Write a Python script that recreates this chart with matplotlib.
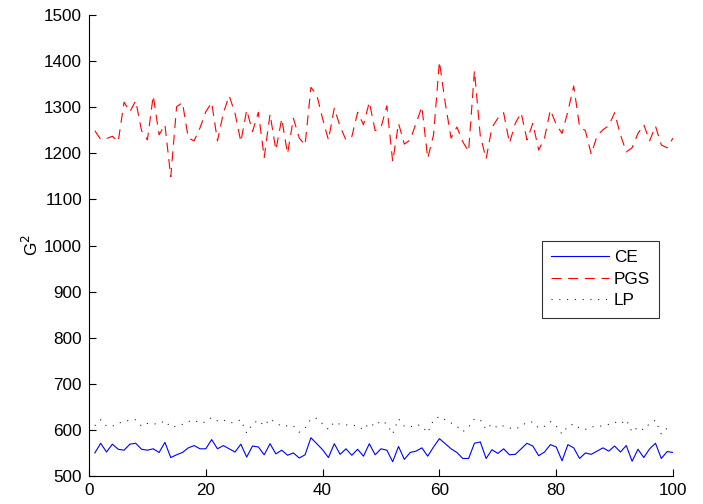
import numpy as np
import matplotlib
matplotlib.use("Agg")
import matplotlib.pyplot as plt

plt.rcParams['font.family'] = ['Liberation Sans', 'DejaVu Sans']

# iterations 1..100
x = np.arange(1, 101)

ce = [550, 571, 552, 569, 558, 556, 569, 571, 558, 556,
      559, 551, 573, 540, 546, 551, 561, 566, 559, 559,
      579, 559, 566, 559, 552, 569, 541, 565, 563, 546,
      570, 548, 556, 545, 550, 539, 546, 583, 570, 557,
      540, 570, 547, 559, 545, 558, 543, 570, 546, 559,
      556, 531, 564, 536, 551, 554, 561, 543, 563, 581,
      570, 559, 551, 538, 538, 571, 574, 538, 557, 549,
      559, 546, 547, 559, 571, 565, 544, 552, 568, 563,
      533, 568, 561, 538, 550, 547, 554, 561, 554, 565,
      552, 566, 532, 558, 540, 559, 571, 538, 553, 551]

pgs = [1249, 1230, 1232, 1237, 1225, 1311, 1290, 1314, 1249, 1229,
       1325, 1240, 1262, 1149, 1301, 1310, 1233, 1227, 1255, 1290,
       1310, 1227, 1287, 1325, 1287, 1225, 1294, 1247, 1289, 1191,
       1285, 1207, 1275, 1199, 1276, 1233, 1218, 1343, 1327, 1275,
       1229, 1298, 1258, 1229, 1236, 1289, 1262, 1311, 1249, 1256,
       1303, 1182, 1265, 1220, 1229, 1265, 1301, 1189, 1240, 1399,
       1309, 1233, 1257, 1225, 1204, 1379, 1238, 1188, 1256, 1276,
       1288, 1222, 1265, 1288, 1229, 1265, 1207, 1233, 1294, 1263,
       1243, 1291, 1346, 1258, 1249, 1198, 1238, 1251, 1260, 1288,
       1240, 1203, 1212, 1243, 1262, 1227, 1259, 1218, 1212, 1233]

lp = [609, 622, 608, 608, 615, 617, 622, 622, 608, 614,
      613, 613, 620, 606, 608, 612, 618, 621, 615, 617,
      627, 620, 622, 615, 617, 622, 593, 613, 621, 609,
      624, 615, 608, 609, 609, 595, 604, 624, 625, 613,
      601, 617, 612, 611, 610, 609, 600, 615, 608, 620,
      613, 591, 624, 608, 606, 612, 608, 594, 622, 629,
      622, 615, 608, 596, 606, 624, 622, 601, 613, 604,
      609, 604, 602, 608, 617, 617, 604, 608, 618, 608,
      591, 608, 613, 604, 601, 607, 607, 609, 612, 617,
      613, 622, 595, 606, 600, 614, 621, 591, 604, 608]

fig = plt.figure(figsize=(7.03, 5.04), dpi=100)
ax = fig.add_axes([89 / 703, 1 - 476 / 504, 584 / 703, 461 / 504])

ax.plot(x, ce, color='#0000ff', lw=0.8, label='CE')
ax.plot(x, pgs, color='#ff0000', lw=0.8, linestyle=(0, (9, 6)), label='PGS')
ax.plot(x, lp, color='#222222', lw=0.8, linestyle=(0, (1, 6)), label='LP')

ax.set_xlim(0, 100)
ax.set_ylim(500, 1500)
ax.set_xticks(np.arange(0, 101, 20))
ax.set_yticks(np.arange(500, 1501, 100))
ax.tick_params(direction='in', length=5, labelsize=12.3, width=0.8, pad=5)
ax.spines['top'].set_visible(False)
ax.spines['right'].set_visible(False)
ax.set_ylabel('G$^2$', fontsize=12.3, labelpad=2)

leg = ax.legend(loc='upper left', bbox_to_anchor=(542 / 703, 1 - 241 / 504),
                bbox_transform=fig.transFigure, fontsize=12.3, frameon=True,
                fancybox=False, handlelength=3.4, handletextpad=0.25,
                borderpad=0.55, labelspacing=0.38, borderaxespad=0)
leg.get_frame().set_edgecolor('black')
leg.get_frame().set_linewidth(0.8)

fig.savefig('out.png', dpi=100)
